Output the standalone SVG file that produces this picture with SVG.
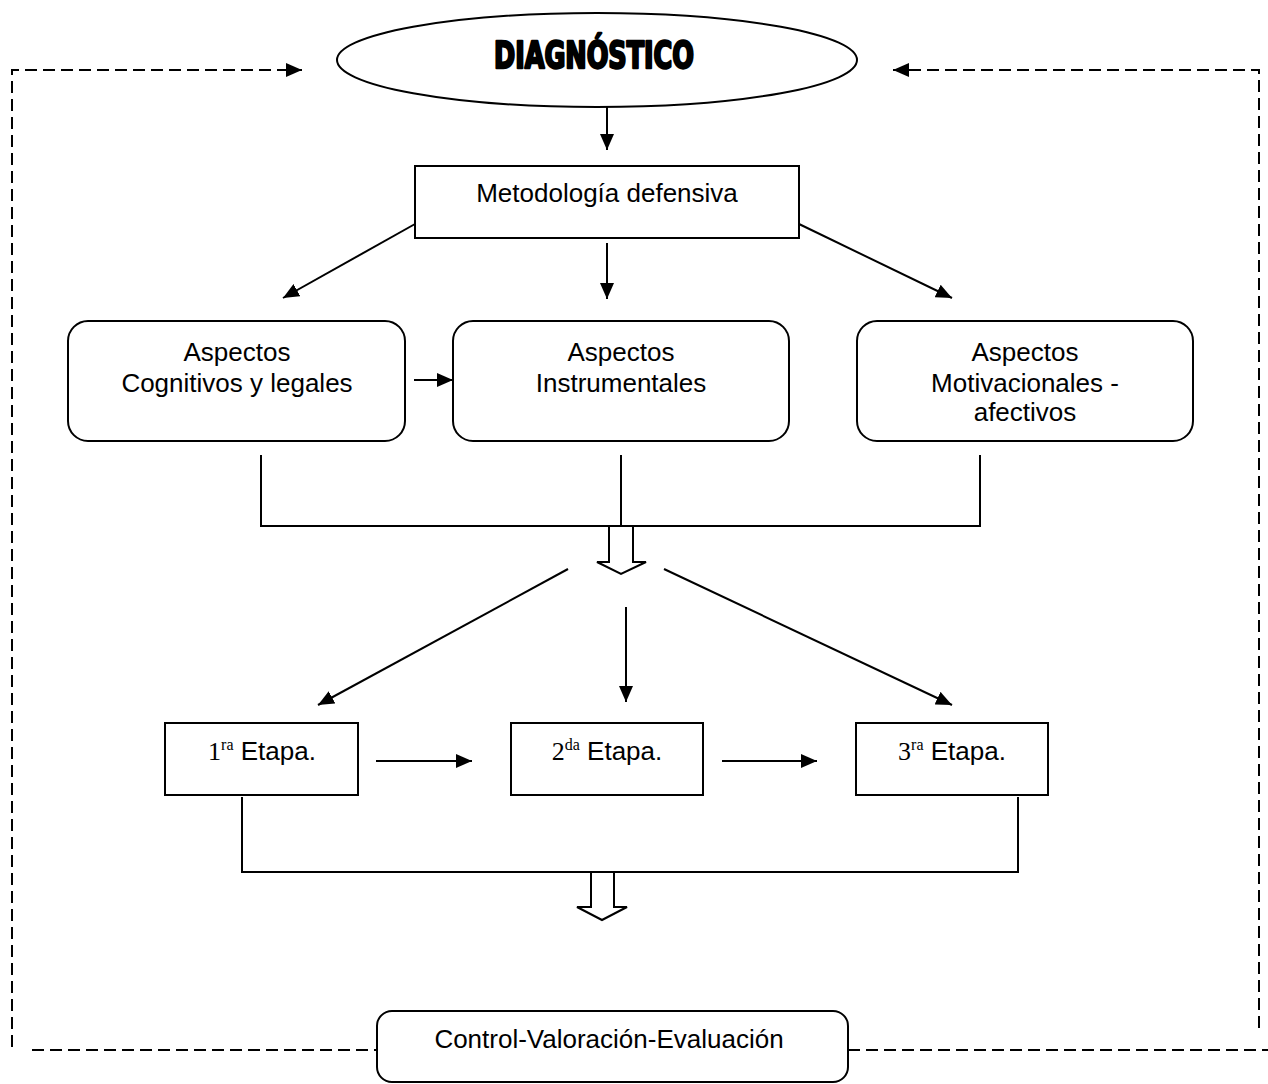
<svg xmlns="http://www.w3.org/2000/svg" width="1268" height="1084" viewBox="0 0 1268 1084">
<style>
.box{fill:#fff;stroke:#000;stroke-width:2}
.ln{fill:none;stroke:#000;stroke-width:2}
.dash{fill:none;stroke:#000;stroke-width:2;stroke-dasharray:12 6}
.t{font-family:"Liberation Sans",Arial,sans-serif;font-size:26px;fill:#000;text-anchor:middle}
.s{font-family:"Liberation Serif","Times New Roman",serif}
.title{font-family:"DejaVu Sans Condensed","DejaVu Sans",sans-serif;font-weight:bold;font-size:37px;fill:#000;stroke:#000;stroke-width:2.4;stroke-linejoin:round;text-anchor:middle}
</style>
<defs>
<marker id="ah" markerUnits="userSpaceOnUse" markerWidth="16" markerHeight="14" refX="16" refY="7" orient="auto">
<path d="M0,0 L16,7 L0,14 z" fill="#000"/>
</marker>
</defs>
<rect width="1268" height="1084" fill="#fff"/>
<g id="connectors">
<path class="dash" d="M12,1047 V70 H302" marker-end="url(#ah)"/>
<path class="dash" d="M1259,1028 V70 H893" marker-end="url(#ah)"/>
<path class="dash" d="M32,1050 H377"/>
<path class="dash" d="M848,1050 H1268"/>
<line class="ln" x1="607" y1="107" x2="607" y2="150" marker-end="url(#ah)"/>
<line class="ln" x1="607" y1="243" x2="607" y2="299" marker-end="url(#ah)"/>
<line class="ln" x1="415" y1="224" x2="283" y2="298" marker-end="url(#ah)"/>
<line class="ln" x1="799" y1="224" x2="952" y2="298" marker-end="url(#ah)"/>
<line class="ln" x1="414" y1="380" x2="453" y2="380" marker-end="url(#ah)"/>
<path class="ln" d="M261,455 V526 H980 V455"/>
<line class="ln" x1="621" y1="455" x2="621" y2="526"/>
<polygon class="ln" fill="#fff" points="609,526 633,526 633,562 646,562 621,574 597,562 609,562"/>
<line class="ln" x1="568" y1="569" x2="318" y2="705" marker-end="url(#ah)"/>
<line class="ln" x1="626" y1="607" x2="626" y2="702" marker-end="url(#ah)"/>
<line class="ln" x1="664" y1="569" x2="952" y2="705" marker-end="url(#ah)"/>
<line class="ln" x1="376" y1="761" x2="472" y2="761" marker-end="url(#ah)"/>
<line class="ln" x1="722" y1="761" x2="817" y2="761" marker-end="url(#ah)"/>
<path class="ln" d="M242,797 V872 H1018 V797"/>
<polygon class="ln" fill="#fff" points="591,872 614,872 614,907 627,907 602,920 577,907 591,907"/>
</g>
<g id="diagnostico">
<ellipse class="box" cx="597" cy="60" rx="260" ry="47"/>
<text class="title" x="594" y="68" textLength="200" lengthAdjust="spacingAndGlyphs">DIAGNÓSTICO</text>
</g>
<g id="metodologia">
<rect class="box" x="415" y="166" width="384" height="72"/>
<text class="t" x="607" y="202">Metodología defensiva</text>
</g>
<g id="aspectos-cognitivos">
<rect class="box" x="68" y="321" width="337" height="120" rx="20"/>
<text class="t" x="237" y="361">Aspectos</text>
<text class="t" x="237" y="392">Cognitivos y legales</text>
</g>
<g id="aspectos-instrumentales">
<rect class="box" x="453" y="321" width="336" height="120" rx="20"/>
<text class="t" x="621" y="361">Aspectos</text>
<text class="t" x="621" y="392">Instrumentales</text>
</g>
<g id="aspectos-motivacionales">
<rect class="box" x="857" y="321" width="336" height="120" rx="20"/>
<text class="t" x="1025" y="361">Aspectos</text>
<text class="t" x="1025" y="392">Motivacionales -</text>
<text class="t" x="1025" y="421">afectivos</text>
</g>
<g id="etapa1">
<rect class="box" x="165" y="723" width="193" height="72"/>
<text class="t" x="262" y="760"><tspan class="s">1</tspan><tspan class="s" font-size="16" dy="-10">ra</tspan><tspan dy="10"> Etapa.</tspan></text>
</g>
<g id="etapa2">
<rect class="box" x="511" y="723" width="192" height="72"/>
<text class="t" x="607" y="760"><tspan class="s">2</tspan><tspan class="s" font-size="16" dy="-10">da</tspan><tspan dy="10"> Etapa.</tspan></text>
</g>
<g id="etapa3">
<rect class="box" x="856" y="723" width="192" height="72"/>
<text class="t" x="952" y="760"><tspan class="s">3</tspan><tspan class="s" font-size="16" dy="-10">ra</tspan><tspan dy="10"> Etapa.</tspan></text>
</g>
<g id="control">
<rect class="box" x="377" y="1011" width="471" height="71" rx="15"/>
<text class="t" x="609" y="1048">Control-Valoración-Evaluación</text>
</g>
</svg>
